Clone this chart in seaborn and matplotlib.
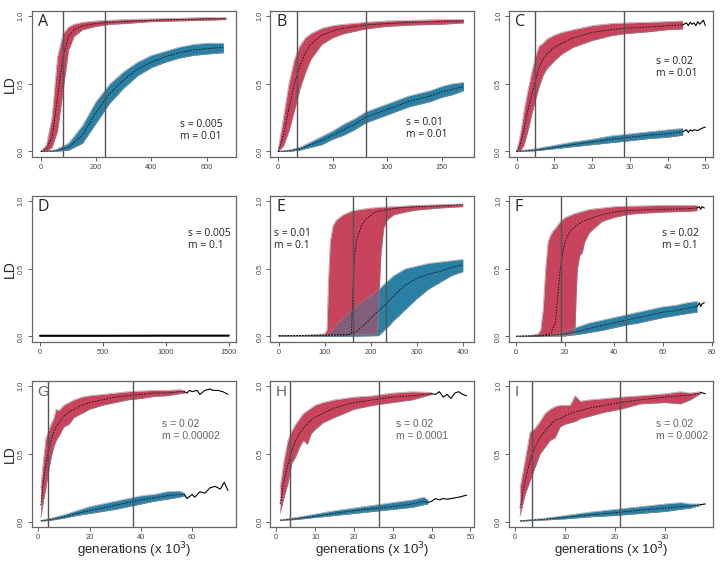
import numpy as np
import matplotlib
matplotlib.use("Agg")
import matplotlib.pyplot as plt
import seaborn as sns

RED = "#c8435c"
BLUE = "#2a7fa5"

# ---- panel A: s = 0.005, m = 0.01
a_red_x = [0, 20, 40, 60, 80, 100, 120, 150, 200, 250, 300, 400, 500, 600, 670]
a_red_mid = [0.0, 0.02, 0.1, 0.4, 0.7, 0.85, 0.9, 0.93, 0.945, 0.955, 0.96, 0.97, 0.975, 0.98, 0.98]
a_red_hi = [0.0, 0.05, 0.25, 0.7, 0.87, 0.92, 0.94, 0.955, 0.965, 0.97, 0.975, 0.98, 0.985, 0.99, 0.99]
a_red_lo = [0.0, 0.0, 0.03, 0.15, 0.45, 0.75, 0.85, 0.9, 0.925, 0.94, 0.945, 0.96, 0.965, 0.97, 0.975]
a_blue_x = [0, 50, 100, 150, 200, 250, 300, 350, 400, 450, 500, 550, 600, 660]
a_blue_mid = [0.0, 0.005, 0.03, 0.12, 0.29, 0.43, 0.53, 0.61, 0.66, 0.7, 0.73, 0.75, 0.76, 0.77]
a_blue_hi = [0.0, 0.01, 0.06, 0.19, 0.37, 0.5, 0.59, 0.66, 0.71, 0.74, 0.77, 0.79, 0.8, 0.8]
a_blue_lo = [0.0, 0.0, 0.01, 0.06, 0.21, 0.36, 0.47, 0.56, 0.62, 0.66, 0.69, 0.71, 0.72, 0.73]
a_vlines = [80, 232]

# ---- panel B: s = 0.01, m = 0.01
b_red_x = [0, 5, 10, 15, 20, 25, 30, 40, 50, 60, 80, 100, 125, 150, 170]
b_red_mid = [0.0, 0.12, 0.32, 0.5, 0.63, 0.73, 0.79, 0.86, 0.89, 0.91, 0.935, 0.945, 0.955, 0.96, 0.965]
b_red_hi = [0.01, 0.25, 0.5, 0.68, 0.78, 0.84, 0.87, 0.91, 0.93, 0.94, 0.955, 0.965, 0.97, 0.975, 0.975]
b_red_lo = [0.0, 0.04, 0.15, 0.3, 0.46, 0.58, 0.68, 0.79, 0.84, 0.87, 0.905, 0.925, 0.935, 0.94, 0.95]
b_blue_x = [0, 10, 20, 30, 40, 50, 60, 70, 80, 90, 100, 110, 120, 130, 140, 150, 160, 170]
b_blue_mid = [0.0, 0.005, 0.02, 0.05, 0.08, 0.12, 0.16, 0.2, 0.25, 0.28, 0.31, 0.34, 0.37, 0.39, 0.41, 0.44, 0.46, 0.48]
b_blue_hi = [0.0, 0.01, 0.03, 0.07, 0.11, 0.15, 0.2, 0.24, 0.29, 0.32, 0.35, 0.38, 0.41, 0.43, 0.45, 0.48, 0.5, 0.51]
b_blue_lo = [0.0, 0.0, 0.01, 0.03, 0.05, 0.09, 0.12, 0.16, 0.21, 0.24, 0.27, 0.3, 0.33, 0.35, 0.37, 0.4, 0.42, 0.45]
b_vlines = [17, 81]

# ---- panel C: s = 0.02, m = 0.01
c_red_x = [0, 1, 2, 3, 4, 5, 6, 7, 8, 10, 12, 15, 20, 25, 28.5, 35, 40, 44]
c_red_mid = [0.0, 0.05, 0.17, 0.3, 0.42, 0.52, 0.62, 0.68, 0.72, 0.77, 0.8, 0.84, 0.88, 0.9, 0.91, 0.92, 0.93, 0.935]
c_red_hi = [0.0, 0.12, 0.3, 0.45, 0.58, 0.7, 0.78, 0.8, 0.83, 0.86, 0.88, 0.9, 0.93, 0.945, 0.95, 0.955, 0.96, 0.965]
c_red_lo = [0.0, 0.0, 0.05, 0.15, 0.27, 0.38, 0.48, 0.56, 0.61, 0.67, 0.72, 0.77, 0.82, 0.855, 0.87, 0.885, 0.9, 0.905]
c_red_tail_x = [44, 45, 45.5, 46, 46.5, 47, 47.5, 48, 48.5, 49, 49.5, 50]
c_red_tail_y = [0.935, 0.95, 0.93, 0.955, 0.94, 0.95, 0.93, 0.96, 0.94, 0.955, 0.97, 0.93]
c_blue_x = [0, 5, 10, 15, 20, 25, 28.5, 35, 40, 44]
c_blue_mid = [0.0, 0.01, 0.03, 0.05, 0.07, 0.09, 0.1, 0.12, 0.13, 0.145]
c_blue_hi = [0.0, 0.02, 0.045, 0.07, 0.09, 0.115, 0.125, 0.145, 0.16, 0.17]
c_blue_lo = [0.0, 0.005, 0.02, 0.035, 0.05, 0.065, 0.075, 0.095, 0.105, 0.12]
c_blue_tail_x = [44, 45, 45.5, 46, 46.5, 47, 48, 49, 50]
c_blue_tail_y = [0.145, 0.16, 0.14, 0.16, 0.15, 0.16, 0.155, 0.17, 0.18]
c_vlines = [5, 28.5]

# ---- panel D: s = 0.005, m = 0.1 (no sweep)
d_x = [0, 500, 1000, 1500]
d_y = [0.005, 0.005, 0.006, 0.006]

# ---- panel E: s = 0.01, m = 0.1
e_red_x = [0, 50, 100, 105, 108, 112, 118, 125, 140, 160, 200, 215, 218, 222, 228, 235, 250, 275, 300, 350, 400]
e_red_hi = [0.005, 0.008, 0.02, 0.05, 0.4, 0.7, 0.82, 0.86, 0.9, 0.93, 0.95, 0.953, 0.955, 0.956, 0.957, 0.958, 0.96, 0.965, 0.97, 0.975, 0.98]
e_red_lo = [0.0, 0.002, 0.005, 0.005, 0.006, 0.006, 0.007, 0.008, 0.01, 0.012, 0.015, 0.02, 0.3, 0.6, 0.8, 0.86, 0.9, 0.92, 0.935, 0.95, 0.96]
e_red_mid_x = [0, 100, 150, 158, 162, 165, 170, 180, 190, 210, 240, 260, 300, 350, 400]
e_red_mid = [0.005, 0.01, 0.015, 0.02, 0.4, 0.6, 0.72, 0.82, 0.87, 0.92, 0.94, 0.95, 0.96, 0.965, 0.975]
e_blue_x = [0, 100, 110, 130, 160, 190, 200, 215, 218, 230, 240, 250, 260, 275, 300, 325, 350, 375, 400]
e_blue_hi = [0.005, 0.008, 0.02, 0.1, 0.2, 0.28, 0.3, 0.34, 0.35, 0.39, 0.42, 0.45, 0.47, 0.5, 0.52, 0.54, 0.55, 0.56, 0.57]
e_blue_lo = [0.0, 0.0, 0.0, 0.0, 0.002, 0.004, 0.005, 0.006, 0.01, 0.05, 0.08, 0.12, 0.15, 0.2, 0.28, 0.35, 0.4, 0.45, 0.48]
e_blue_mid_x = [0, 150, 170, 190, 210, 230, 250, 275, 300, 325, 350, 375, 400]
e_blue_mid = [0.005, 0.01, 0.04, 0.1, 0.17, 0.23, 0.3, 0.38, 0.43, 0.46, 0.48, 0.51, 0.53]
e_vlines = [162, 234]

# ---- panel F: s = 0.02, m = 0.1
f_red_x = [0, 5, 9, 10, 11, 12, 13, 14, 15, 16, 18, 20, 24, 24.5, 25, 26, 27, 28, 30, 35, 40, 45, 50, 60, 70, 74]
f_red_hi = [0.0, 0.005, 0.02, 0.05, 0.2, 0.5, 0.7, 0.75, 0.78, 0.8, 0.85, 0.88, 0.91, 0.912, 0.915, 0.92, 0.925, 0.93, 0.94, 0.95, 0.96, 0.963, 0.965, 0.97, 0.97, 0.97]
f_red_lo = [0.0, 0.0, 0.0, 0.001, 0.002, 0.002, 0.003, 0.003, 0.004, 0.004, 0.005, 0.005, 0.02, 0.3, 0.5, 0.6, 0.62, 0.7, 0.77, 0.85, 0.88, 0.9, 0.91, 0.92, 0.925, 0.93]
f_red_mid_x = [0, 10, 14, 16, 17, 18, 19, 20, 22, 24, 27, 30, 35, 40, 45, 50, 60, 70, 74]
f_red_mid = [0.002, 0.005, 0.02, 0.1, 0.3, 0.5, 0.62, 0.7, 0.78, 0.81, 0.85, 0.87, 0.9, 0.92, 0.93, 0.935, 0.94, 0.945, 0.95]
f_red_tail_x = [74, 75, 75.5, 76, 77]
f_red_tail_y = [0.95, 0.96, 0.94, 0.96, 0.95]
f_blue_x = [0, 10, 15, 20, 25, 30, 35, 40, 45, 50, 55, 60, 65, 70, 74]
f_blue_mid = [0.002, 0.005, 0.01, 0.02, 0.035, 0.06, 0.08, 0.1, 0.12, 0.14, 0.16, 0.18, 0.19, 0.21, 0.22]
f_blue_hi = [0.002, 0.006, 0.015, 0.04, 0.07, 0.1, 0.12, 0.14, 0.16, 0.18, 0.2, 0.22, 0.23, 0.25, 0.26]
f_blue_lo = [0.0, 0.003, 0.005, 0.005, 0.015, 0.03, 0.045, 0.065, 0.085, 0.1, 0.12, 0.14, 0.155, 0.17, 0.18]
f_blue_tail_x = [74, 75, 75.5, 76, 77]
f_blue_tail_y = [0.22, 0.25, 0.22, 0.24, 0.25]
f_vlines = [18.5, 45]

# ---- panel G: s = 0.02, m = 0.00002
g_red_x = [1, 2, 3, 4, 5, 6, 7, 8, 10, 12, 14, 17, 20, 25, 30, 35, 40, 45, 50, 55, 57]
g_red_mid = [0.12, 0.3, 0.42, 0.52, 0.6, 0.66, 0.7, 0.73, 0.78, 0.81, 0.83, 0.86, 0.88, 0.9, 0.92, 0.93, 0.94, 0.95, 0.95, 0.96, 0.96]
g_red_hi = [0.25, 0.45, 0.62, 0.67, 0.72, 0.76, 0.83, 0.82, 0.86, 0.88, 0.9, 0.92, 0.93, 0.94, 0.95, 0.96, 0.965, 0.97, 0.97, 0.975, 0.97]
g_red_lo = [0.03, 0.15, 0.25, 0.37, 0.47, 0.55, 0.6, 0.63, 0.7, 0.72, 0.77, 0.8, 0.83, 0.86, 0.88, 0.9, 0.91, 0.925, 0.93, 0.945, 0.95]
g_red_tail_x = [57, 58, 59, 60, 62, 63, 65, 67, 68, 70, 72, 74]
g_red_tail_y = [0.96, 0.95, 0.97, 0.96, 0.97, 0.94, 0.97, 0.98, 0.97, 0.97, 0.96, 0.94]
g_blue_x = [1, 5, 10, 15, 20, 25, 30, 35, 40, 45, 50, 55, 57]
g_blue_mid = [0.005, 0.015, 0.035, 0.06, 0.08, 0.1, 0.12, 0.14, 0.16, 0.175, 0.19, 0.2, 0.2]
g_blue_hi = [0.008, 0.025, 0.05, 0.08, 0.11, 0.13, 0.15, 0.17, 0.19, 0.2, 0.22, 0.225, 0.21]
g_blue_lo = [0.003, 0.01, 0.025, 0.045, 0.06, 0.075, 0.09, 0.11, 0.13, 0.15, 0.165, 0.18, 0.19]
g_blue_tail_x = [57, 58, 60, 61, 63, 65, 67, 69, 71, 72.5, 74]
g_blue_tail_y = [0.2, 0.17, 0.2, 0.18, 0.22, 0.21, 0.25, 0.26, 0.24, 0.29, 0.23]
g_vlines = [3.9, 37]

# ---- panel H: s = 0.02, m = 0.0001
h_red_x = [1, 2, 3, 4, 5, 6, 7, 8, 9, 10, 12, 15, 20, 25, 30, 35, 40]
h_red_mid = [0.13, 0.3, 0.42, 0.52, 0.6, 0.65, 0.69, 0.72, 0.75, 0.77, 0.8, 0.84, 0.88, 0.9, 0.92, 0.93, 0.945]
h_red_hi = [0.25, 0.45, 0.6, 0.67, 0.72, 0.76, 0.8, 0.82, 0.84, 0.86, 0.88, 0.9, 0.92, 0.93, 0.95, 0.96, 0.955]
h_red_lo = [0.06, 0.18, 0.28, 0.43, 0.48, 0.55, 0.6, 0.57, 0.65, 0.68, 0.73, 0.77, 0.83, 0.86, 0.88, 0.9, 0.94]
h_red_tail_x = [40, 41, 42, 43, 44, 45, 46, 47, 48, 49]
h_red_tail_y = [0.945, 0.94, 0.96, 0.92, 0.94, 0.91, 0.95, 0.96, 0.94, 0.93]
h_blue_x = [1, 5, 10, 15, 20, 25, 30, 35, 38, 39]
h_blue_mid = [0.01, 0.02, 0.04, 0.06, 0.08, 0.095, 0.11, 0.13, 0.15, 0.14]
h_blue_hi = [0.012, 0.03, 0.055, 0.08, 0.1, 0.12, 0.14, 0.16, 0.18, 0.16]
h_blue_lo = [0.008, 0.015, 0.03, 0.045, 0.06, 0.075, 0.09, 0.105, 0.125, 0.13]
h_blue_tail_x = [39, 40, 41, 42, 43, 44, 45, 47, 49]
h_blue_tail_y = [0.14, 0.15, 0.17, 0.16, 0.17, 0.165, 0.17, 0.18, 0.195]
h_vlines = [3.5, 26.5]

# ---- panel I: s = 0.02, m = 0.0002
i_red_x = [1, 2, 3, 4, 5, 6, 7, 8, 9, 10, 11, 12, 13, 15, 18, 21, 25, 30, 33, 35, 37]
i_red_mid = [0.1, 0.3, 0.45, 0.55, 0.62, 0.67, 0.71, 0.75, 0.76, 0.78, 0.8, 0.81, 0.82, 0.84, 0.86, 0.88, 0.9, 0.92, 0.93, 0.935, 0.95]
i_red_hi = [0.25, 0.45, 0.66, 0.69, 0.74, 0.8, 0.83, 0.85, 0.86, 0.86, 0.86, 0.93, 0.89, 0.9, 0.91, 0.92, 0.93, 0.945, 0.96, 0.95, 0.96]
i_red_lo = [0.04, 0.2, 0.3, 0.4, 0.5, 0.55, 0.6, 0.62, 0.7, 0.72, 0.73, 0.74, 0.76, 0.78, 0.81, 0.83, 0.87, 0.88, 0.87, 0.9, 0.945]
i_red_tail_x = [37, 38]
i_red_tail_y = [0.955, 0.945]
i_blue_x = [1, 5, 10, 15, 20, 25, 30, 33, 35, 37]
i_blue_mid = [0.005, 0.015, 0.03, 0.05, 0.065, 0.085, 0.1, 0.11, 0.115, 0.125]
i_blue_hi = [0.007, 0.02, 0.045, 0.07, 0.09, 0.11, 0.13, 0.14, 0.13, 0.13]
i_blue_lo = [0.003, 0.01, 0.02, 0.035, 0.045, 0.06, 0.075, 0.09, 0.1, 0.12]
i_blue_tail_x = [37, 38]
i_blue_tail_y = [0.125, 0.13]
i_vlines = [3.3, 21]

letters = ["A", "B", "C", "D", "E", "F", "G", "H", "I"]
params = ["s = 0.005\nm = 0.01", "s = 0.01\nm = 0.01", "s = 0.02\nm = 0.01",
          "s = 0.005\nm = 0.1", "s = 0.01\nm = 0.1", "s = 0.02\nm = 0.1",
          "s = 0.02\nm = 0.00002", "s = 0.02\nm = 0.0001", "s = 0.02\nm = 0.0002"]
param_pos = [(0.725, 0.26), (0.665, 0.27), (0.72, 0.69), (0.765, 0.78), (0.02, 0.78),
             (0.75, 0.78), (0.636, 0.74), (0.617, 0.74), (0.72, 0.74)]
x_limits = [(-33, 705), (-7, 180), (-2, 52), (-65, 1555), (-18, 425), (-3, 80.5),
            (-2.5, 77), (-1.5, 51), (-1.2, 39.5)]
x_ticks = [[0, 200, 400, 600], [0, 50, 100, 150], [0, 10, 20, 30, 40, 50],
           [0, 500, 1000, 1500], [0, 100, 200, 300, 400], [0, 20, 40, 60, 80],
           [0, 20, 40, 60], [0, 10, 20, 30, 40, 50], [0, 10, 20, 30]]


def band(ax, x, lo, hi, color, alpha=1.0, edge=True):
    ax.fill_between(x, lo, hi, color=color, alpha=alpha, lw=0)
    if edge:
        ax.plot(x, hi, color="#8a8a8a", lw=0.5, alpha=0.8)
        ax.plot(x, lo, color="#8a8a8a", lw=0.5, alpha=0.8)


def mean_line(ax, x, y):
    sns.lineplot(x=x, y=y, ax=ax, color="#111111", lw=0.6, dashes=False,
                 linestyle=(0, (2, 1.5)), estimator=None, sort=False)


def tail_line(ax, x, y):
    sns.lineplot(x=x, y=y, ax=ax, color="black", lw=0.8, estimator=None, sort=False)


def draw_panel(ax, rx, rmid_x, rmid, rlo, rhi, bx, bmid_x, bmid, blo, bhi, vlines,
               rtail=None, btail=None):
    # blue first, then red, then translucent blue so overlap shows purple
    band(ax, bx, blo, bhi, BLUE)
    band(ax, rx, rlo, rhi, RED)
    ax.fill_between(bx, blo, bhi, color=BLUE, alpha=0.45, lw=0)
    mean_line(ax, rmid_x, rmid)
    mean_line(ax, bmid_x, bmid)
    if rtail is not None:
        tail_line(ax, *rtail)
    if btail is not None:
        tail_line(ax, *btail)
    for v in vlines:
        ax.axvline(v, color="#555555", lw=1.0)


sns.set_style("white")
plt.rcParams["font.family"] = ["Liberation Sans", "DejaVu Sans"]

fig, axes = plt.subplots(3, 3, figsize=(7.23, 5.66), dpi=100)
fig.subplots_adjust(left=0.044, right=0.986, top=0.981, bottom=0.069,
                    wspace=0.17, hspace=0.267)
axes = axes.ravel()

draw_panel(axes[0], a_red_x, a_red_x, a_red_mid, a_red_lo, a_red_hi,
           a_blue_x, a_blue_x, a_blue_mid, a_blue_lo, a_blue_hi, a_vlines)
draw_panel(axes[1], b_red_x, b_red_x, b_red_mid, b_red_lo, b_red_hi,
           b_blue_x, b_blue_x, b_blue_mid, b_blue_lo, b_blue_hi, b_vlines)
draw_panel(axes[2], c_red_x, c_red_x, c_red_mid, c_red_lo, c_red_hi,
           c_blue_x, c_blue_x, c_blue_mid, c_blue_lo, c_blue_hi, c_vlines,
           (c_red_tail_x, c_red_tail_y), (c_blue_tail_x, c_blue_tail_y))
sns.lineplot(x=d_x, y=d_y, ax=axes[3], color="black", lw=1.5, estimator=None)
draw_panel(axes[4], e_red_x, e_red_mid_x, e_red_mid, e_red_lo, e_red_hi,
           e_blue_x, e_blue_mid_x, e_blue_mid, e_blue_lo, e_blue_hi, e_vlines)
draw_panel(axes[5], f_red_x, f_red_mid_x, f_red_mid, f_red_lo, f_red_hi,
           f_blue_x, f_blue_x, f_blue_mid, f_blue_lo, f_blue_hi, f_vlines,
           (f_red_tail_x, f_red_tail_y), (f_blue_tail_x, f_blue_tail_y))
draw_panel(axes[6], g_red_x, g_red_x, g_red_mid, g_red_lo, g_red_hi,
           g_blue_x, g_blue_x, g_blue_mid, g_blue_lo, g_blue_hi, g_vlines,
           (g_red_tail_x, g_red_tail_y), (g_blue_tail_x, g_blue_tail_y))
draw_panel(axes[7], h_red_x, h_red_x, h_red_mid, h_red_lo, h_red_hi,
           h_blue_x, h_blue_x, h_blue_mid, h_blue_lo, h_blue_hi, h_vlines,
           (h_red_tail_x, h_red_tail_y), (h_blue_tail_x, h_blue_tail_y))
draw_panel(axes[8], i_red_x, i_red_x, i_red_mid, i_red_lo, i_red_hi,
           i_blue_x, i_blue_x, i_blue_mid, i_blue_lo, i_blue_hi, i_vlines,
           (i_red_tail_x, i_red_tail_y), (i_blue_tail_x, i_blue_tail_y))

for k, ax in enumerate(axes):
    ax.set_xlim(*x_limits[k])
    ax.set_ylim(-0.04, 1.04)
    ax.set_xticks(x_ticks[k])
    ax.set_yticks([0, 0.5, 1.0])
    ax.set_yticklabels(["0.0", "0.5", "1.0"], rotation=90, va="center")
    ax.tick_params(axis="both", labelsize=5.3, colors="#444444", length=3,
                   width=0.6, direction="out", pad=2)
    ax.tick_params(left=True, bottom=True)
    for sp in ax.spines.values():
        sp.set_color("#666666")
        sp.set_linewidth(0.9)
    ax.set_xlabel("")
    ax.set_ylabel("")
    if k < 6:
        ax.text(0.028, 0.975, letters[k], transform=ax.transAxes, fontsize=11.5,
                ha="left", va="top", color="#222222", family=["Open Sans", "DejaVu Sans"])
        px, py = param_pos[k]
        ax.text(px, py, params[k], transform=ax.transAxes, fontsize=7.5,
                ha="left", va="top", color="#222222", linespacing=1.1,
                family=["Open Sans", "DejaVu Sans"])
    else:
        ax.text(0.028, 0.975, letters[k], transform=ax.transAxes, fontsize=11,
                ha="left", va="top", color="#666666")
        px, py = param_pos[k]
        ax.text(px, py, params[k], transform=ax.transAxes, fontsize=7.5,
                ha="left", va="top", color="#666666", linespacing=1.3)
    if k % 3 == 0:
        ax.set_ylabel("LD", fontsize=10)
        ax.yaxis.set_label_coords(-0.075, 0.5)
    if k >= 6:
        ax.set_xlabel("generations (x 10$^3$)", fontsize=9.5)
        ax.xaxis.set_label_coords(0.5, -0.09)

fig.savefig("out.png", dpi=100)
